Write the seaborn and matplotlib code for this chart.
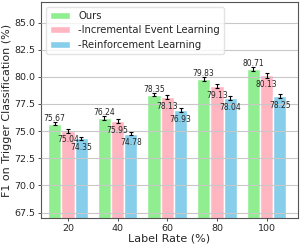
import numpy as np
import pandas as pd
import matplotlib
matplotlib.use('Agg')
import matplotlib.pyplot as plt
import seaborn as sns

# ── Data ──
rates = ['20', '40', '60', '80', '100']
methods = ['Ours', '-Incremental Event Learning', '-Reinforcement Learning']
ours = [75.67, 76.24, 78.35, 79.83, 80.71]
no_incr = [75.04, 75.95, 78.13, 79.13, 80.13]
no_rl = [74.35, 74.78, 76.93, 78.04, 78.25]
err_ours = [0.15, 0.18, 0.15, 0.18, 0.18]
err_incr = [0.20, 0.18, 0.18, 0.20, 0.20]
err_rl = [0.15, 0.15, 0.18, 0.18, 0.18]
colors = ['#90EE90', '#FFB6C1', '#87CEEB']

scores = [ours, no_incr, no_rl]
errs = [err_ours, err_incr, err_rl]
df = pd.DataFrame({
    'rate': rates * 3,
    'method': np.repeat(methods, len(rates)),
    'f1': ours + no_incr + no_rl,
})

sns.set_style('white')
fig = plt.figure(figsize=(3.0, 2.46), dpi=100)
ax = fig.add_axes([0.137, 0.114, 0.856, 0.878])

sns.barplot(data=df, x='rate', y='f1', hue='method', palette=colors,
            width=0.8, saturation=1, errorbar=None, ax=ax)

w = 0.8 / 3
for j, (vals, ee) in enumerate(zip(scores, errs)):
    xs = np.arange(len(rates)) + (j - 1) * w
    ax.errorbar(xs, vals, yerr=ee, fmt='none', ecolor='black',
                elinewidth=0.8, capsize=1.5, capthick=0.8, zorder=4)
    for x, v in zip(xs, vals):
        if j == 0:
            ax.text(x, v + 0.5, f'{v:.2f}', ha='center', va='center', fontsize=5.5, zorder=5)
        else:
            ax.text(x, v - 0.85, f'{v:.2f}', ha='center', va='center', fontsize=5.5, zorder=5)

ax.set_ylim(67.0, 86.9)
ax.set_xlim(-0.54, 4.63)
ax.set_yticks(np.arange(67.5, 85.1, 2.5))
ax.set_yticklabels([f'{t:.1f}' for t in np.arange(67.5, 85.1, 2.5)])
ax.yaxis.grid(True, color='#c8c8c8', lw=0.8, zorder=3)
ax.set_axisbelow(False)
ax.tick_params(axis='both', labelsize=6.8, length=2.5, width=0.6, color='#333333',
               left=True, bottom=True, pad=1.5)
for s in ax.spines.values():
    s.set_color('#555555'); s.set_linewidth(0.8)
ax.set_xlabel('Label Rate (%)', fontsize=8, labelpad=1)
ax.set_ylabel('F1 on Trigger Classification (%)', fontsize=8, labelpad=2)
leg = ax.legend(loc='upper left', fontsize=7.2, frameon=True, handlelength=2.0,
                handleheight=0.7, borderpad=0.4, labelspacing=0.45,
                bbox_to_anchor=(0.0, 1.0))
leg.get_frame().set_edgecolor('#dddddd')
leg.set_title(None)

fig.savefig('out.png', dpi=100)
